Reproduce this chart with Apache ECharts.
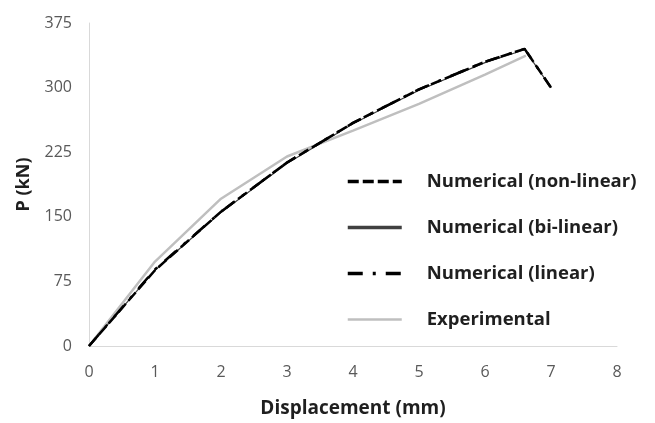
<!DOCTYPE html>
<html><head><meta charset="utf-8">
<script src="https://cdn.jsdelivr.net/npm/echarts@6/dist/echarts.min.js"></script>
<style>html,body{margin:0;padding:0;background:#fff}#c{width:655px;height:423px}</style>
</head><body><div id="c"></div>
<script>
const xTicks = [0,1,2,3,4,5,6,7,8];
const yTicks = [0,75,150,225,300,375];
const seriesNames = ['Numerical (non-linear)','Numerical (bi-linear)','Numerical (linear)','Experimental'];
const nonLinear = [[0,0],[1,88],[2,156],[3,213],[4,259],[5,298],[6,330],[6.6,345],[7.0,300]];
const biLinear  = [[0,0],[1,88],[2,155],[3,212],[4,258],[5,297],[6,329],[6.6,344],[7.0,300]];
const linear    = [[0,0],[1,89],[2,156],[3,213],[4,259],[5,298],[6,330],[6.6,345],[7.0,300]];
const experimental = [[0,0],[1,98],[2,171],[3,220],[4,250],[5,281],[6,315],[6.62,337]];

const chart = echarts.init(document.getElementById('c'));
const FONT = '"Open Sans"';
const TXT = '#1f1f1f';
chart.setOption({
  animation:false,
  grid:{left:89,right:38,top:23,bottom:73,containLabel:false},
  xAxis:{type:'value',min:0,max:8,interval:1,
    name:'Displacement (mm)',nameLocation:'middle',nameGap:53,
    nameTextStyle:{fontFamily:FONT,fontWeight:'bold',fontSize:19,color:TXT},
    axisLine:{show:true,lineStyle:{color:'#d9d9d9',width:1}},axisTick:{show:false},
    splitLine:{show:false},
    axisLabel:{fontFamily:FONT,fontSize:16,color:'#595959',margin:18,
      formatter:v=>xTicks.includes(v)?String(v):''}},
  yAxis:{type:'value',min:0,max:375,interval:75,
    name:'P (kN)',nameLocation:'middle',nameGap:56,
    nameTextStyle:{fontFamily:FONT,fontWeight:'bold',fontSize:18,color:TXT},
    axisLine:{show:true,lineStyle:{color:'#d9d9d9',width:1}},axisTick:{show:false},
    splitLine:{show:false},
    axisLabel:{fontFamily:FONT,fontSize:16,color:'#595959',margin:17,
      formatter:v=>yTicks.includes(v)?String(v):''}},
  legend:{orient:'vertical',left:341,top:167,itemWidth:54,itemHeight:14,itemGap:27,
    itemStyle:{opacity:0},
    textStyle:{fontFamily:FONT,fontWeight:'bold',fontSize:18.5,lineHeight:18.5,color:TXT,padding:[0,0,0,20]},
    data:[
      {name:seriesNames[0],lineStyle:{width:3.5}},
      {name:seriesNames[1],lineStyle:{width:3.5}},
      {name:seriesNames[2],lineStyle:{width:3.5}},
      {name:seriesNames[3],lineStyle:{width:2.5}}
    ]},
  series:[
    {name:seriesNames[3],type:'line',data:experimental,showSymbol:false,symbol:'none',z:1,
      lineStyle:{color:'#bfbfbf',width:2.5},itemStyle:{color:'#bfbfbf'}},
    {name:seriesNames[1],type:'line',data:biLinear,showSymbol:false,symbol:'none',z:2,
      lineStyle:{color:'#404040',width:1.2},itemStyle:{color:'#000'}},
    {name:seriesNames[2],type:'line',data:linear,showSymbol:false,symbol:'none',z:3,
      lineStyle:{color:'#000',width:2.5,type:[15,10,3,10]},itemStyle:{color:'#000'}},
    {name:seriesNames[0],type:'line',data:nonLinear,showSymbol:false,symbol:'none',z:4,
      lineStyle:{color:'#000',width:2.5,type:[11,4]},itemStyle:{color:'#000'}}
  ]
});
</script></body></html>
